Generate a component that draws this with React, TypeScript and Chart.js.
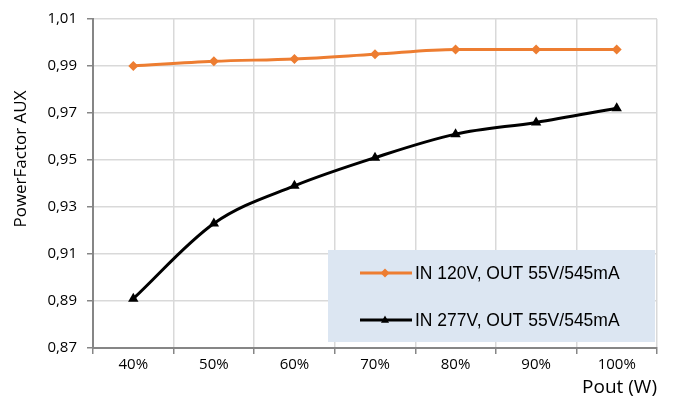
import React, { useEffect, useRef } from "react";
import { Chart, registerables } from "chart.js";

Chart.register(...registerables);

const categories = ["40%", "50%", "60%", "70%", "80%", "90%", "100%"];
const series120 = [0.990, 0.992, 0.993, 0.995, 0.997, 0.997, 0.997];
const series277 = [0.891, 0.923, 0.939, 0.951, 0.961, 0.966, 0.972];
const label120 = "IN 120V, OUT 55V/545mA";
const label277 = "IN 277V, OUT 55V/545mA";
const yMin = 0.87;
const yMax = 1.01;
const yStep = 0.02;
const yTitle = "PowerFactor AUX";
const xTitle = "Pout (W)";

const FONT = "'Open Sans', 'Noto Sans', sans-serif";

function marker(ctx: CanvasRenderingContext2D, style: string, x: number, y: number, r: number) {
  ctx.beginPath();
  if (style === "triangle") {
    ctx.moveTo(x, y - r);
    ctx.lineTo(x + r * 0.9, y + r * 0.6);
    ctx.lineTo(x - r * 0.9, y + r * 0.6);
  } else {
    ctx.moveTo(x, y - r);
    ctx.lineTo(x + r, y);
    ctx.lineTo(x, y + r);
    ctx.lineTo(x - r, y);
  }
  ctx.closePath();
  ctx.fill();
}

const legendBoxPlugin = {
  id: "legendBox",
  afterDatasetsDraw(chart: any) {
    const { ctx, chartArea } = chart;
    const w = 327;
    const h = 92;
    const x = chartArea.right - w - 2;
    const y = chartArea.bottom - h - 6;
    ctx.save();
    ctx.fillStyle = "#dce6f2";
    ctx.fillRect(x, y, w, h);
    const rows = [y + 23, y + 70];
    chart.data.datasets.forEach((ds: any, i: number) => {
      const ry = rows[i];
      ctx.strokeStyle = ds.borderColor;
      ctx.lineWidth = 3;
      ctx.beginPath();
      ctx.moveTo(x + 32, ry);
      ctx.lineTo(x + 84, ry);
      ctx.stroke();
      ctx.fillStyle = ds.borderColor;
      marker(ctx, ds.pointStyle, x + 57, ry, 4.5);
      ctx.fillStyle = "#000";
      ctx.font = "17.5px 'Liberation Sans', Arial, sans-serif";
      ctx.textBaseline = "middle";
      ctx.textAlign = "left";
      ctx.fillText(ds.label, x + 87, ry + 1);
    });
    ctx.restore();
  },
};

const yTitlePlugin = {
  id: "yTitle",
  afterDraw(chart: any) {
    const { ctx } = chart;
    ctx.save();
    ctx.translate(21, 159);
    ctx.rotate(-Math.PI / 2);
    ctx.fillStyle = "#000";
    ctx.font = "17px " + FONT;
    ctx.textAlign = "center";
    ctx.textBaseline = "middle";
    ctx.fillText(yTitle, 0, 0);
    ctx.restore();
  },
};

export default function App() {
  const ref = useRef<HTMLCanvasElement>(null);
  useEffect(() => {
    const tickFont = { family: FONT, size: 15 };
    const chart = new Chart(ref.current!, {
      type: "line",
      data: {
        labels: categories,
        datasets: [
          {
            label: label120,
            data: series120,
            borderColor: "#ed7d31",
            backgroundColor: "#ed7d31",
            borderWidth: 3,
            pointStyle: "rectRot",
            pointRadius: 5,
            pointBorderWidth: 0,
            tension: 0.3,
            cubicInterpolationMode: "monotone",
          },
          {
            label: label277,
            data: series277,
            borderColor: "#000000",
            backgroundColor: "#000000",
            borderWidth: 3,
            pointStyle: "triangle",
            pointRadius: 6,
            pointBorderWidth: 0,
            tension: 0.3,
            cubicInterpolationMode: "monotone",
          },
        ],
      },
      options: {
        animation: false,
        responsive: false,
        layout: { padding: { top: 18, right: 20, left: 0, bottom: 0 } },
        plugins: { legend: { display: false }, tooltip: { enabled: false } },
        scales: {
          x: {
            offset: true,
            grid: { offset: true, color: "#d9d9d9", tickColor: "#868686", tickLength: 6, lineWidth: 1.5 },
            border: { color: "#868686", width: 2 },
            ticks: { color: "#000", font: tickFont, padding: 2 },
            title: { display: true, text: xTitle, align: "end", color: "#000", font: { family: FONT, size: 19 }, padding: { top: 0 } },
            afterFit: (s: any) => { s.height = 55; },
          },
          y: {
            min: yMin,
            max: yMax,
            ticks: {
              stepSize: yStep,
              color: "#000",
              font: tickFont,
              padding: 10,
              callback: (v: any) => Number(v).toFixed(2).replace(".", ","),
            },
            grid: { color: "#d9d9d9", tickColor: "#868686", tickLength: 6, lineWidth: 1.5 },
            border: { color: "#868686", width: 2 },
            afterFit: (s: any) => { s.width = 93; },
          },
        },
      },
      plugins: [legendBoxPlugin, yTitlePlugin],
    } as any);
    return () => chart.destroy();
  }, []);
  return (
    <div style={{ position: "fixed", left: 0, top: 0, width: 677, height: 403, background: "#fff" }}>
      <canvas ref={ref} width={677} height={403} style={{ width: 677, height: 403 }} />
    </div>
  );
}
